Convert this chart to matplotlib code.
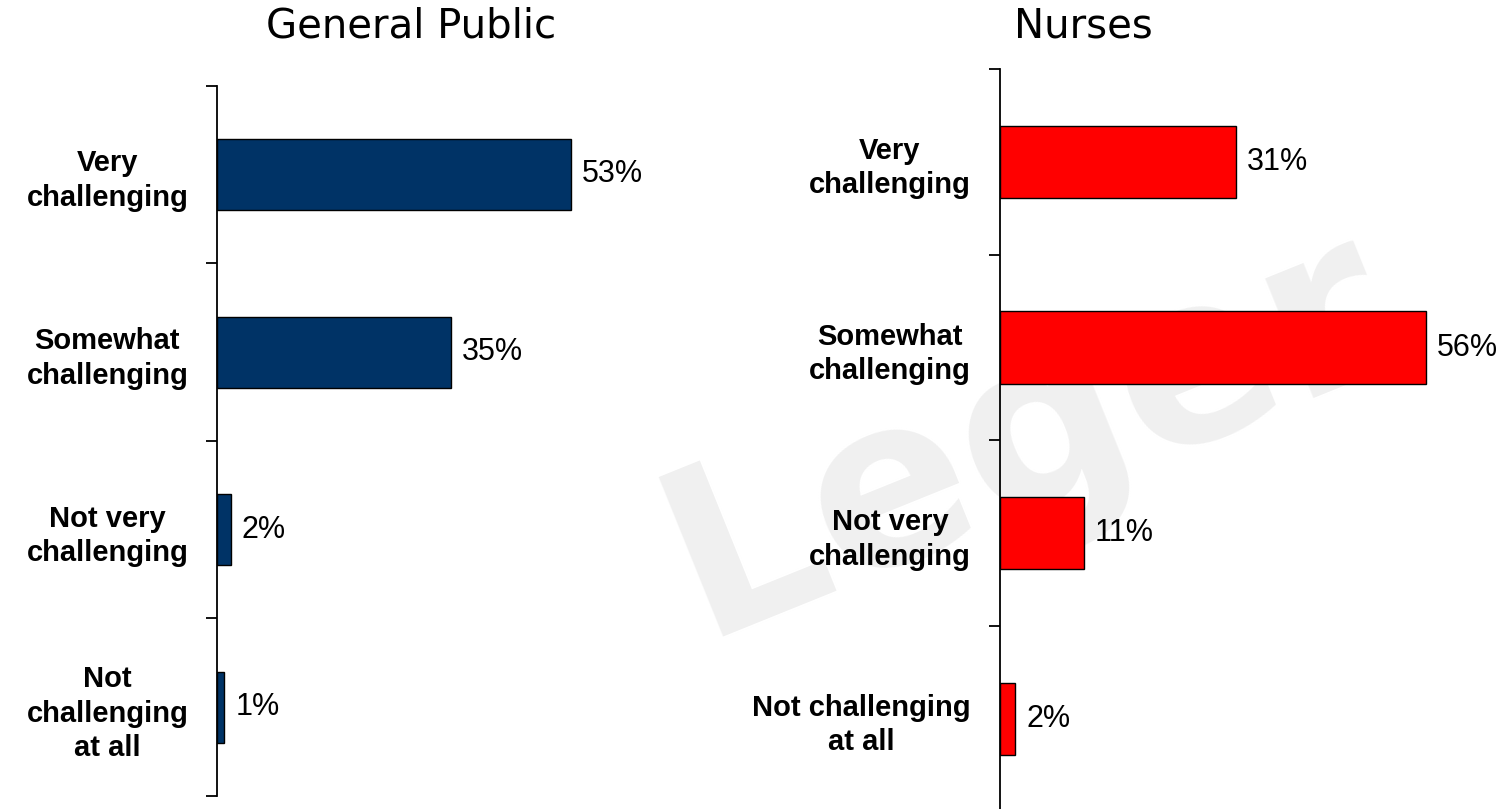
import matplotlib
matplotlib.use('Agg')
import matplotlib.pyplot as plt

categories_gp = ['Very\nchallenging', 'Somewhat\nchallenging', 'Not very\nchallenging', 'Not\nchallenging\nat all']
values_gp = [53, 35, 2, 1]

categories_nu = ['Very\nchallenging', 'Somewhat\nchallenging', 'Not very\nchallenging', 'Not challenging\nat all']
values_nu = [31, 56, 11, 2]

fig = plt.figure(figsize=(15.12, 8.09), dpi=100)

# faint watermark behind everything
fig.text(0.68, 0.46, 'Leger', fontsize=170, fontweight='bold', color='#f0f0f0',
         rotation=22, ha='center', va='center', family='DejaVu Sans', zorder=-10)


def panel(rect, cats, vals, color, bar_h):
    ax = fig.add_axes(rect)
    ax.patch.set_alpha(0)
    y = list(range(len(cats)))
    ax.barh(y, vals, height=bar_h, color=color, edgecolor='black', linewidth=1.0, zorder=3)
    ax.set_ylim(len(cats) - 0.5, -0.5)
    ax.set_xlim(0, 60)
    for s in ['top', 'right', 'bottom']:
        ax.spines[s].set_visible(False)
    ax.spines['left'].set_linewidth(1.3)
    ax.set_xticks([])
    ax.set_yticks(y)
    ax.set_yticklabels(cats, fontsize=21, fontweight='bold', family='Liberation Sans')
    for lab in ax.get_yticklabels():
        lab.set_multialignment('center')
        lab.set_linespacing(1.3)
    ax.tick_params(axis='y', which='major', length=0, pad=21)
    ax.set_yticks([i - 0.5 for i in range(len(cats) + 1)], minor=True)
    ax.tick_params(axis='y', which='minor', length=8, width=1.3, direction='out')
    for i, v in enumerate(vals):
        ax.annotate(f'{v}%', (v, i), xytext=(8, 0), textcoords='offset points',
                    va='center', ha='left', fontsize=22, family='Liberation Sans')
    return ax


panel([217.5 / 1512, 13 / 809, 400 / 1512, 710.3 / 809], categories_gp, values_gp, '#003366', 0.40)
panel([1000 / 1512, -2.7 / 809, 456 / 1512, 742.7 / 809], categories_nu, values_nu, '#ff0000', 0.39)

fig.text(411 / 1512, 1 - 37 / 809, 'General Public', fontsize=29, ha='center', va='baseline',
         family='DejaVu Sans')
fig.text(1083 / 1512, 1 - 37 / 809, 'Nurses', fontsize=29, ha='center', va='baseline',
         family='DejaVu Sans')

fig.savefig('out.png', dpi=100)
